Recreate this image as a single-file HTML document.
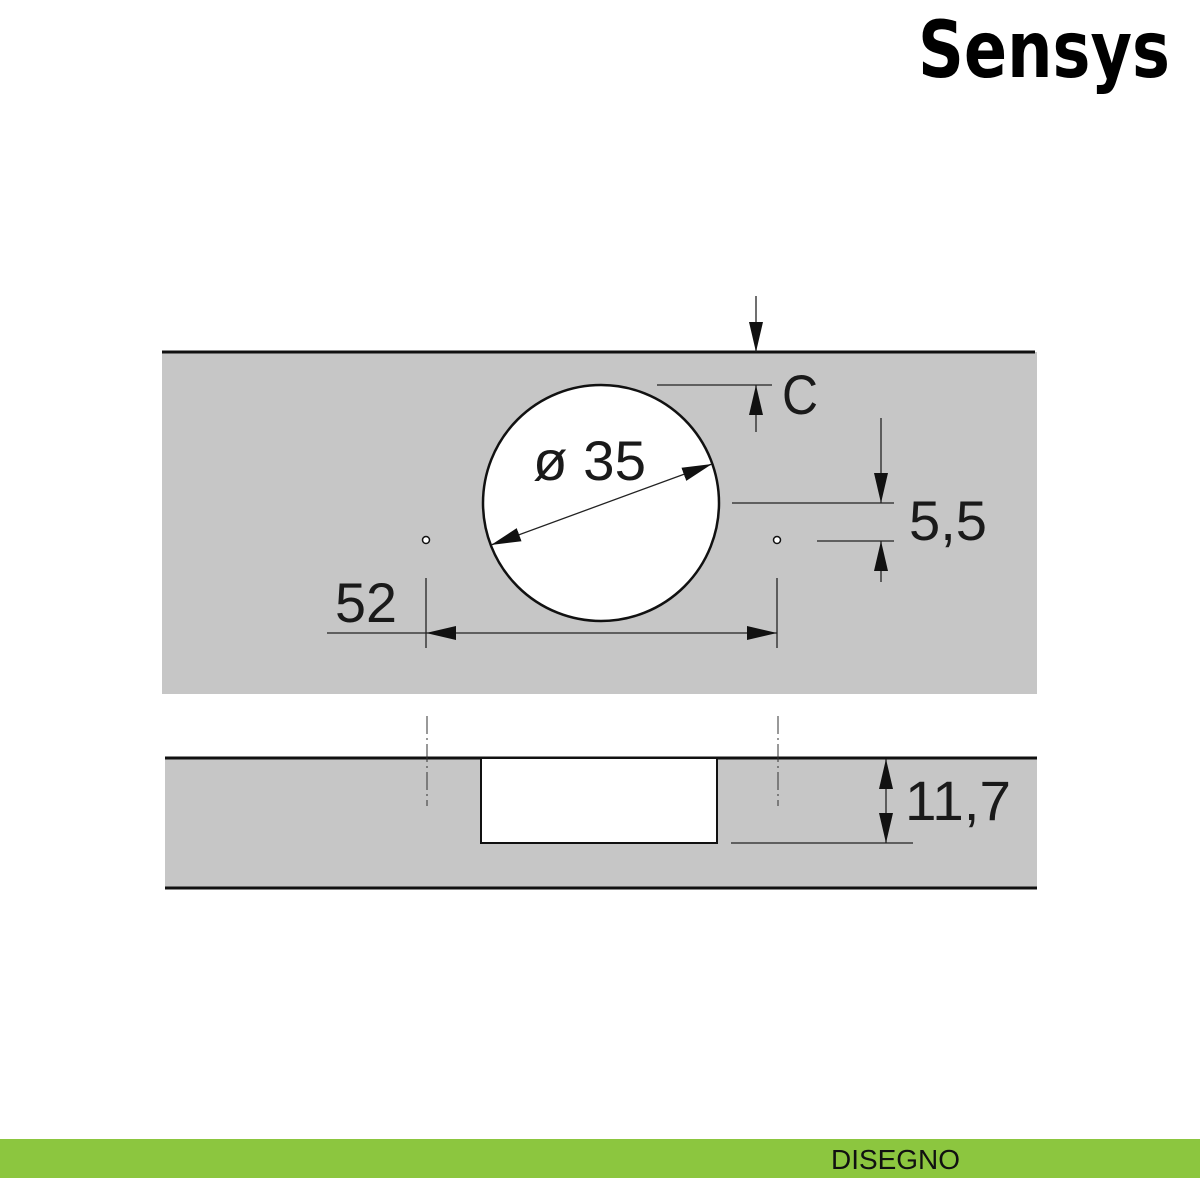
<!DOCTYPE html>
<html><head><meta charset="utf-8"><style>html,body{margin:0;padding:0;background:#fff}svg{display:block}</style></head>
<body>
<svg width="1200" height="1200" viewBox="0 0 1200 1200" xmlns="http://www.w3.org/2000/svg">
<defs>
<marker id="a" viewBox="0 0 30 14" refX="30" refY="7" markerWidth="30" markerHeight="14" markerUnits="userSpaceOnUse" orient="auto-start-reverse"><path d="M0,0 L30,7 L0,14 z" fill="#111"/></marker>
</defs>
<rect width="1200" height="1200" fill="#fff"/>
<text x="918" y="77" font-family="DejaVu Sans, Liberation Sans, sans-serif" font-weight="bold" font-size="78" textLength="252" lengthAdjust="spacingAndGlyphs" fill="#000">Sensys</text>

<rect x="162" y="352" width="875" height="342" fill="#c6c6c6"/>
<line x1="162" y1="352" x2="1035" y2="352" stroke="#111" stroke-width="3"/>
<circle cx="601" cy="503" r="118" fill="#fff" stroke="#111" stroke-width="2.5"/>
<circle cx="426" cy="540" r="3.5" fill="#fff" stroke="#111" stroke-width="1.5"/>
<circle cx="777" cy="540" r="3.5" fill="#fff" stroke="#111" stroke-width="1.5"/>

<g stroke="#222" stroke-width="1.3" fill="none">
<line x1="756" y1="296" x2="756" y2="352" marker-end="url(#a)"/>
<line x1="756" y1="432" x2="756" y2="385" marker-end="url(#a)"/>
<line x1="657" y1="385" x2="772" y2="385"/>
<line x1="881" y1="418" x2="881" y2="503" marker-end="url(#a)"/>
<line x1="881" y1="582" x2="881" y2="541" marker-end="url(#a)"/>
<line x1="732" y1="503" x2="894" y2="503"/>
<line x1="817" y1="541" x2="894" y2="541"/>
<line x1="426" y1="578" x2="426" y2="648"/>
<line x1="777" y1="578" x2="777" y2="648"/>
<line x1="327" y1="633" x2="426" y2="633"/>
<line x1="426" y1="633" x2="777" y2="633" marker-start="url(#a)" marker-end="url(#a)"/>
<line x1="491" y1="545" x2="712" y2="464" marker-start="url(#a)" marker-end="url(#a)"/>
</g>

<rect x="165" y="758" width="872" height="130" fill="#c6c6c6"/>
<line x1="165" y1="758" x2="1037" y2="758" stroke="#111" stroke-width="3"/>
<line x1="165" y1="888" x2="1037" y2="888" stroke="#111" stroke-width="3"/>
<rect x="481" y="758" width="236" height="85" fill="#fff" stroke="#111" stroke-width="2"/>
<g stroke="#333" stroke-width="1" stroke-dasharray="18,4,2,4">
<line x1="427" y1="716" x2="427" y2="806"/>
<line x1="778" y1="716" x2="778" y2="806"/>
</g>
<g stroke="#222" stroke-width="1.3">
<line x1="731" y1="843" x2="913" y2="843"/>
<line x1="886" y1="759" x2="886" y2="843" marker-start="url(#a)" marker-end="url(#a)"/>
</g>

<g font-family="Liberation Sans, sans-serif" font-size="56" fill="#1a1a1a">
<text x="782" y="414" textLength="36" lengthAdjust="spacingAndGlyphs">C</text>
<text x="909" y="540" textLength="78" lengthAdjust="spacingAndGlyphs">5,5</text>
<text x="335" y="622" textLength="62" lengthAdjust="spacingAndGlyphs">52</text>
<text x="533" y="480" textLength="113" lengthAdjust="spacingAndGlyphs">ø 35</text>
<text x="905" y="820" textLength="106" lengthAdjust="spacingAndGlyphs">11,7</text>
</g>

<rect x="0" y="1139" width="1200" height="39" fill="#8cc63f"/>
<text x="831" y="1169" font-family="Liberation Sans, sans-serif" font-size="28" textLength="129" lengthAdjust="spacingAndGlyphs" fill="#111">DISEGNO</text>
</svg>
</body></html>
